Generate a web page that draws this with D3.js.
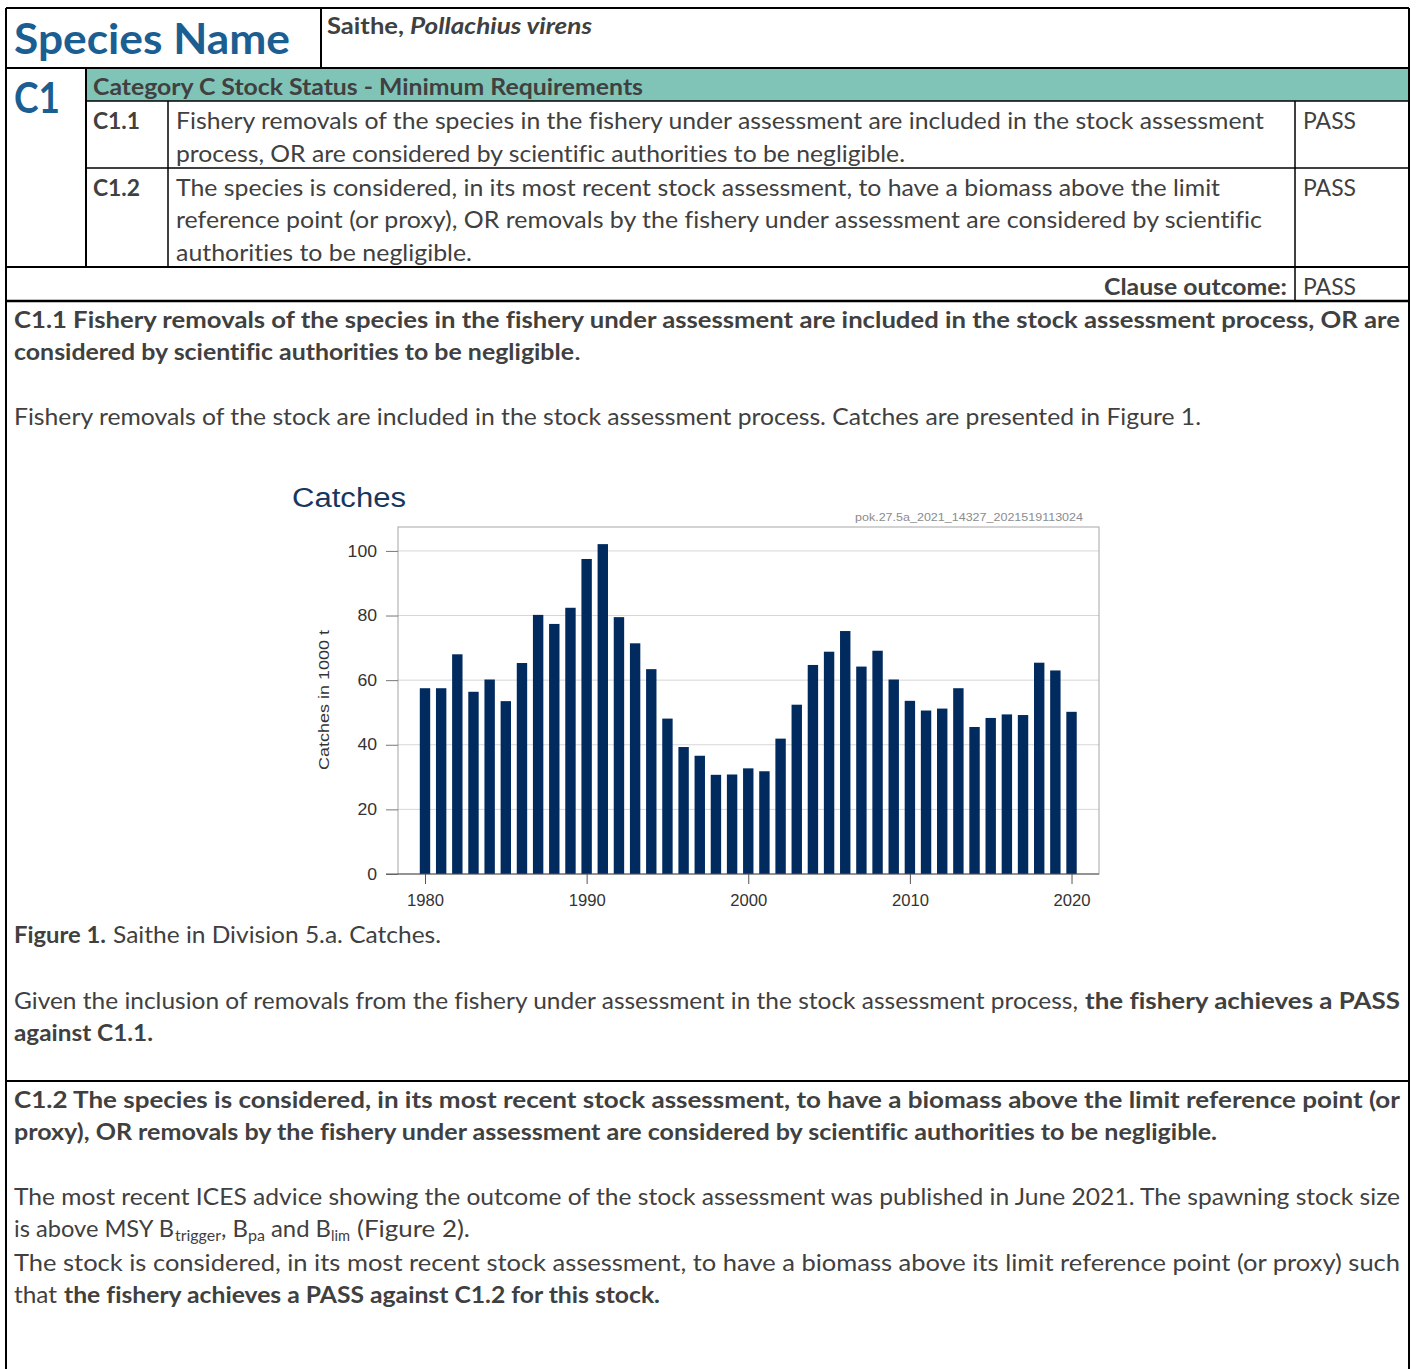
<!DOCTYPE html>
<html>
<head>
<meta charset="utf-8">
<script src="https://cdn.jsdelivr.net/npm/d3@7"></script>
<style>
  body { margin: 0; background: #fff; }
  svg { display: block; font-variant-ligatures: none; }
</style>
</head>
<body>
<div id="page"></div>
<script>
// catches of saithe in 5.a, thousand tonnes
const years = [1980, 1981, 1982, 1983, 1984, 1985, 1986, 1987, 1988, 1989,
  1990, 1991, 1992, 1993, 1994, 1995, 1996, 1997, 1998, 1999,
  2000, 2001, 2002, 2003, 2004, 2005, 2006, 2007, 2008, 2009,
  2010, 2011, 2012, 2013, 2014, 2015, 2016, 2017, 2018, 2019, 2020];
const catches = [57.5, 57.5, 68.0, 56.4, 60.2, 53.5, 65.3, 80.2, 77.4, 82.4,
  97.5, 102.1, 79.5, 71.4, 63.4, 48.1, 39.3, 36.6, 30.7, 30.8,
  32.7, 31.8, 41.9, 52.4, 64.7, 68.8, 75.2, 64.2, 69.1, 60.2,
  53.6, 50.6, 51.2, 57.5, 45.5, 48.3, 49.4, 49.2, 65.4, 63.0, 50.2];
const yTicks = [0, 20, 40, 60, 80, 100];
const xTicks = [1980, 1990, 2000, 2010, 2020];

const W = 1416, H = 1369;
const grey = "#404040", blue = "#1b5e91";
const body = 23.5;

const svg = d3.select("#page").append("svg")
  .attr("width", W).attr("height", H)
  .style("font-family", "Lato, 'Open Sans', sans-serif");

// ---- table frame
svg.append("rect").attr("x", 86).attr("y", 68).attr("width", 1323).attr("height", 33)
  .attr("fill", "#80c4b8");

const rules = [
  [6, 8, 1409, 8, 2], [6, 8, 6, H + 2, 2], [1409, 8, 1409, H + 2, 2],
  [321, 8, 321, 68, 2], [6, 68, 1409, 68, 2],
  [86, 68, 86, 267, 2], [86, 101, 1409, 101, 1.5],
  [168, 101, 168, 267, 1.5], [1295, 101, 1295, 301, 1.5],
  [86, 168, 1409, 168, 1.5], [6, 267, 1409, 267, 2],
  [6, 301, 1409, 301, 2.5], [6, 1081, 1409, 1081, 2]
];
svg.append("g").selectAll("line").data(rules).join("line")
  .attr("x1", d => d[0]).attr("y1", d => d[1])
  .attr("x2", d => d[2]).attr("y2", d => d[3])
  .attr("stroke", "#000").attr("stroke-width", d => d[4]);

// text runs: [text, x0, x1, baseline, style]
const runs = [
  ["Species Name", 14, 290, 54, "head"],
  ["Saithe,", 327, 404, 34, "b"],
  ["Pollachius virens", 410, 592, 34, "bi"],
  ["C1", 14, 60, 113, "head"],
  ["Category C Stock Status - Minimum Requirements", 93, 643, 95, "b"],
  ["C1.1", 93, 140, 129, "b"],
  ["Fishery removals of the species in the fishery under assessment are included in the stock assessment", 176, 1264, 129],
  ["process, OR are considered by scientific authorities to be negligible.", 176, 905, 162],
  ["PASS", 1303, 1356, 129],
  ["C1.2", 93, 140, 196, "b"],
  ["The species is considered, in its most recent stock assessment, to have a biomass above the limit", 176, 1220, 196],
  ["reference point (or proxy), OR removals by the fishery under assessment are considered by scientific", 176, 1262, 228],
  ["authorities to be negligible.", 176, 472, 261],
  ["PASS", 1303, 1356, 196],
  ["Clause outcome:", 1104, 1287, 295, "b"],
  ["PASS", 1303, 1356, 295],
  ["C1.1 Fishery removals of the species in the fishery under assessment are included in the stock assessment process, OR are", 14, 1400, 328, "b"],
  ["considered by scientific authorities to be negligible", 14, 574, 360, "b"],
  [".", 574, 581, 360],
  ["Fishery removals of the stock are included in the stock assessment process. Catches are presented in Figure 1.", 14, 1201, 425],
  ["Figure 1.", 14, 106, 943, "b"],
  ["Saithe in Division 5.a. Catches.", 113, 441, 943],
  ["Given the inclusion of removals from the fishery under assessment in the stock assessment process,", 14, 1078, 1009],
  ["the fishery achieves a PASS", 1085, 1400, 1009, "b"],
  ["against C1.1.", 14, 153, 1041, "b"],
  ["C1.2 The species is considered, in its most recent stock assessment, to have a biomass above the limit reference point (or", 14, 1400, 1108, "b"],
  ["proxy), OR removals by the fishery under assessment are considered by scientific authorities to be negligible.", 14, 1217, 1140, "b"],
  ["The most recent ICES advice showing the outcome of the stock assessment was published in June 2021. The spawning stock size", 14, 1400, 1205],
  ["is above MSY B", 14, 174, 1237],
  ["trigger", 175, 221, 1241, "sub"],
  [", B", 221, 248, 1237],
  ["pa", 248, 265, 1241, "sub"],
  ["and B", 271, 331, 1237],
  ["lim", 331, 350, 1241, "sub"],
  ["(Figure 2).", 357, 470, 1237],
  ["The stock is considered, in its most recent stock assessment, to have a biomass above its limit reference point (or proxy) such", 14, 1400, 1271],
  ["that", 14, 57, 1303],
  ["the fishery achieves a PASS against C1.2 for this stock.", 64, 660, 1303, "b"]
];

svg.append("g").selectAll("text").data(runs).join("text")
  .attr("x", d => d[1]).attr("y", d => d[3])
  .attr("textLength", d => d[2] - d[1])
  .attr("lengthAdjust", "spacingAndGlyphs")
  .attr("font-size", d => d[4] === "head" ? 42 : d[4] === "sub" ? 15 : body)
  .attr("font-weight", d => d[4] && d[4] !== "sub" ? 700 : 400)
  .attr("font-style", d => d[4] === "bi" ? "italic" : "normal")
  .attr("fill", d => d[4] === "head" ? blue : grey)
  .text(d => d[0]);

// ---- catches chart
const x = d3.scaleLinear().domain([1978.33, 2021.7]).range([398, 1099]);
const y = d3.scaleLinear().domain([0, 107.4]).range([874, 527]);
const chart = svg.append("g").style("font-family", "'Liberation Sans', Arial, sans-serif");

chart.append("text").attr("x", 292).attr("y", 507)
  .attr("font-size", 27).attr("fill", "#17375e")
  .attr("textLength", 114).attr("lengthAdjust", "spacingAndGlyphs")
  .text("Catches");

chart.append("text").attr("x", 1083).attr("y", 521)
  .attr("text-anchor", "end").attr("font-size", 11).attr("fill", "#8c8c8c")
  .attr("textLength", 228).attr("lengthAdjust", "spacingAndGlyphs")
  .text("pok.27.5a_2021_14327_2021519113024");

chart.append("g").selectAll("line").data(yTicks.filter(d => d > 0)).join("line")
  .attr("x1", x.range()[0]).attr("x2", x.range()[1])
  .attr("y1", d => y(d)).attr("y2", d => y(d))
  .attr("stroke", "#d6d6d6");

chart.append("rect")
  .attr("x", x.range()[0]).attr("y", y.range()[1])
  .attr("width", x.range()[1] - x.range()[0]).attr("height", y.range()[0] - y.range()[1])
  .attr("fill", "none").attr("stroke", "#a6a6a6");

const bw = 10.4;
chart.append("g").selectAll("rect").data(years).join("rect")
  .attr("x", d => x(d) - bw / 2).attr("width", bw)
  .attr("y", (d, i) => y(catches[i]))
  .attr("height", (d, i) => y(0) - y(catches[i]))
  .attr("fill", "#012b5e");

const yAxis = chart.append("g").attr("transform", `translate(${x.range()[0]},0)`)
  .call(d3.axisLeft(y).tickValues(yTicks).tickSize(12).tickPadding(9));
yAxis.select(".domain").remove();
yAxis.selectAll(".tick line").attr("stroke", "#777");
yAxis.selectAll(".tick text").attr("font-size", 16).attr("fill", "#333")
  .attr("textLength", d => String(d).length * 9.8).attr("lengthAdjust", "spacingAndGlyphs");

const xAxis = chart.append("g").attr("transform", `translate(0,${y(0)})`)
  .call(d3.axisBottom(x).tickValues(xTicks).tickFormat(d3.format("d")).tickSize(10).tickPadding(10.6));
xAxis.select(".domain").attr("d", `M${x.range()[0] - 12},0H${x.range()[1]}`).attr("stroke", "#555");
xAxis.selectAll(".tick line").attr("stroke", "#555");
xAxis.selectAll(".tick text").attr("font-size", 16).attr("fill", "#333")
  .attr("textLength", 37).attr("lengthAdjust", "spacingAndGlyphs");

chart.append("text")
  .attr("transform", "translate(329,700) rotate(-90)")
  .attr("text-anchor", "middle").attr("font-size", 15.5).attr("fill", "#333")
  .attr("textLength", 140).attr("lengthAdjust", "spacingAndGlyphs")
  .text("Catches in 1000 t");
</script>
</body>
</html>
